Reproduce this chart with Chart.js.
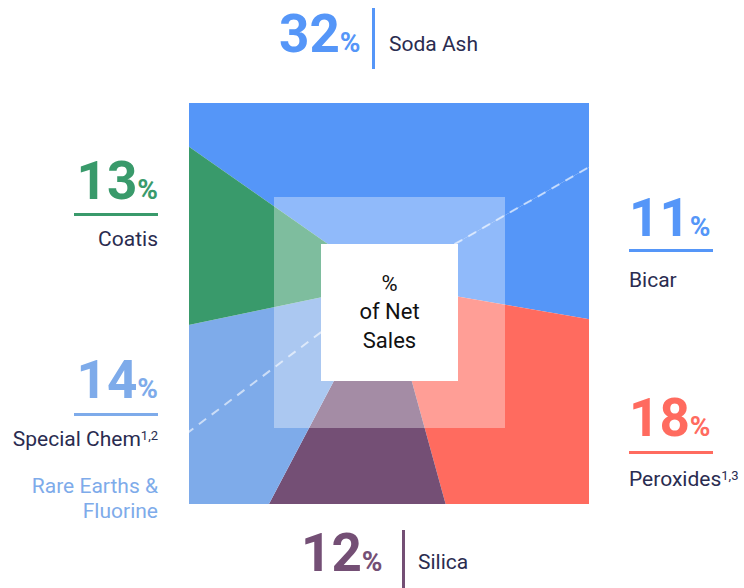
<!DOCTYPE html>
<html>
<head>
<meta charset="utf-8">
<script src="https://cdn.jsdelivr.net/npm/chart.js@4.4.0/dist/chart.umd.min.js"></script>
<style>
  html, body { margin: 0; padding: 0; background: #fff; }
  #page { position: relative; width: 744px; height: 588px; overflow: hidden; font-family: Roboto, "Noto Sans", sans-serif; color: #2a2c50; }
  #frame { position: absolute; left: 189px; top: 103px; width: 400px; height: 401px; overflow: hidden; }
  #pieBox { position: absolute; left: -154px; top: -169px; width: 700px; height: 700px; }
  #veil { position: absolute; left: 274px; top: 197px; width: 231px; height: 231px; background: rgba(255, 255, 255, 0.35); }
  #core { position: absolute; left: 321px; top: 244px; width: 137px; height: 137px; background: #fff; display: flex; align-items: center; justify-content: center; text-align: center; font-size: 22px; line-height: 28.5px; color: #111; }
  .lbl { position: absolute; white-space: nowrap; line-height: 1; }
  .big { font-weight: 700; font-size: 53px; }
  .big span { font-size: 28px; }
  .name { font-size: 21px; }
  .name sup { font-size: 13px; line-height: 1; vertical-align: 6px; }
  .sub { font-size: 21px; line-height: 25px; text-align: right; }
  .rule { position: absolute; height: 3px; width: 84px; }
  .bar { position: absolute; width: 3px; }
</style>
</head>
<body>
<div id="page">
  <div id="frame">
    <div id="pieBox"><canvas id="shareChart"></canvas></div>
  </div>
  <div id="veil"></div>
  <div id="core">%<br>of Net<br>Sales</div>
</div>
<script>
// clockwise from the top
const categories = ['Soda Ash', 'Bicar', 'Peroxides', 'Silica', 'Special Chem', 'Coatis'];
const netSalesShare = [32, 11, 18, 12, 14, 13];
const footnotes = ['', '', '1,3', '', '1,2', ''];
const subLabels = ['', '', '', '', 'Rare Earths &<br>Fluorine', ''];

const sliceColors = ['#5596f8', '#5596f8', '#ff6b5f', '#744f75', '#7eabea', '#399a6b'];

// where each label block sits around the square
const labelLayout = [
  { kind: 'bar', x: 279, base: 53, barX: 372, barTop: 8, barBottom: 69, nameX: 389, nameBase: 52 },
  { kind: 'rule', align: 'left', x: 629, base: 237, ruleY: 249, nameBase: 288 },
  { kind: 'rule', align: 'left', x: 629, base: 437, ruleY: 451, nameBase: 487 },
  { kind: 'bar', x: 301, base: 572, barX: 402, barTop: 530, barBottom: 588, nameX: 418, nameBase: 570 },
  { kind: 'rule', align: 'right', x: 158, base: 399, ruleY: 413, nameBase: 447, subBase: 494 },
  { kind: 'rule', align: 'right', x: 158, base: 200, ruleY: 213, nameBase: 247 }
];

const page = document.getElementById('page');
const ASC = 0.842; // baseline offset for line-height 1

function textAt(html, cls, x, baseline, size, align, color) {
  const el = document.createElement('div');
  el.className = 'lbl ' + cls;
  el.innerHTML = html;
  el.style.top = (baseline - ASC * size) + 'px';
  if (align === 'right') el.style.right = (744 - x) + 'px';
  else el.style.left = x + 'px';
  if (color) el.style.color = color;
  page.appendChild(el);
  return el;
}

function boxAt(cls, left, top, height, color) {
  const el = document.createElement('div');
  el.className = cls;
  el.style.left = left + 'px';
  el.style.top = top + 'px';
  if (height) el.style.height = height + 'px';
  el.style.background = color;
  page.appendChild(el);
}

categories.forEach((name, i) => {
  const l = labelLayout[i];
  const color = sliceColors[i];
  const nameHtml = name + (footnotes[i] ? '<sup>' + footnotes[i] + '</sup>' : '');
  textAt(netSalesShare[i] + '<span>%</span>', 'big', l.x, l.base, 53, l.align, color);
  if (l.kind === 'bar') {
    boxAt('bar', l.barX, l.barTop, l.barBottom - l.barTop, color);
    textAt(nameHtml, 'name', l.nameX, l.nameBase, 21, 'left');
  } else {
    boxAt('rule', l.align === 'right' ? l.x - 84 : l.x, l.ruleY, 0, color);
    textAt(nameHtml, 'name', l.x, l.nameBase, 21, l.align);
  }
  if (subLabels[i]) {
    const el = textAt(subLabels[i], 'sub', l.x, l.subBase, 21, l.align, color);
    el.style.top = (l.subBase - 19.7) + 'px';
  }
});

// dashed split lines inside the blue families
const separatorPlugin = {
  id: 'separators',
  afterDatasetsDraw(chart) {
    const arcs = chart.getDatasetMeta(0).data;
    const ctx = chart.ctx;
    const angles = [arcs[1].startAngle, (arcs[4].startAngle + arcs[4].endAngle) / 2];
    const { x, y, outerRadius } = arcs[0];
    ctx.save();
    ctx.strokeStyle = 'rgba(255, 255, 255, 0.6)';
    ctx.lineWidth = 2;
    ctx.setLineDash([9, 7]);
    angles.forEach(a => {
      ctx.beginPath();
      ctx.moveTo(x, y);
      ctx.lineTo(x + Math.cos(a) * outerRadius, y + Math.sin(a) * outerRadius);
      ctx.stroke();
    });
    ctx.restore();
  }
};

new Chart(document.getElementById('shareChart'), {
  type: 'pie',
  data: {
    labels: categories,
    datasets: [{
      data: netSalesShare,
      backgroundColor: sliceColors,
      borderWidth: 0
    }]
  },
  options: {
    responsive: true,
    maintainAspectRatio: false,
    animation: false,
    rotation: -55,
    events: [],
    plugins: {
      legend: { display: false },
      tooltip: { enabled: false }
    }
  },
  plugins: [separatorPlugin]
});
</script>
</body>
</html>
